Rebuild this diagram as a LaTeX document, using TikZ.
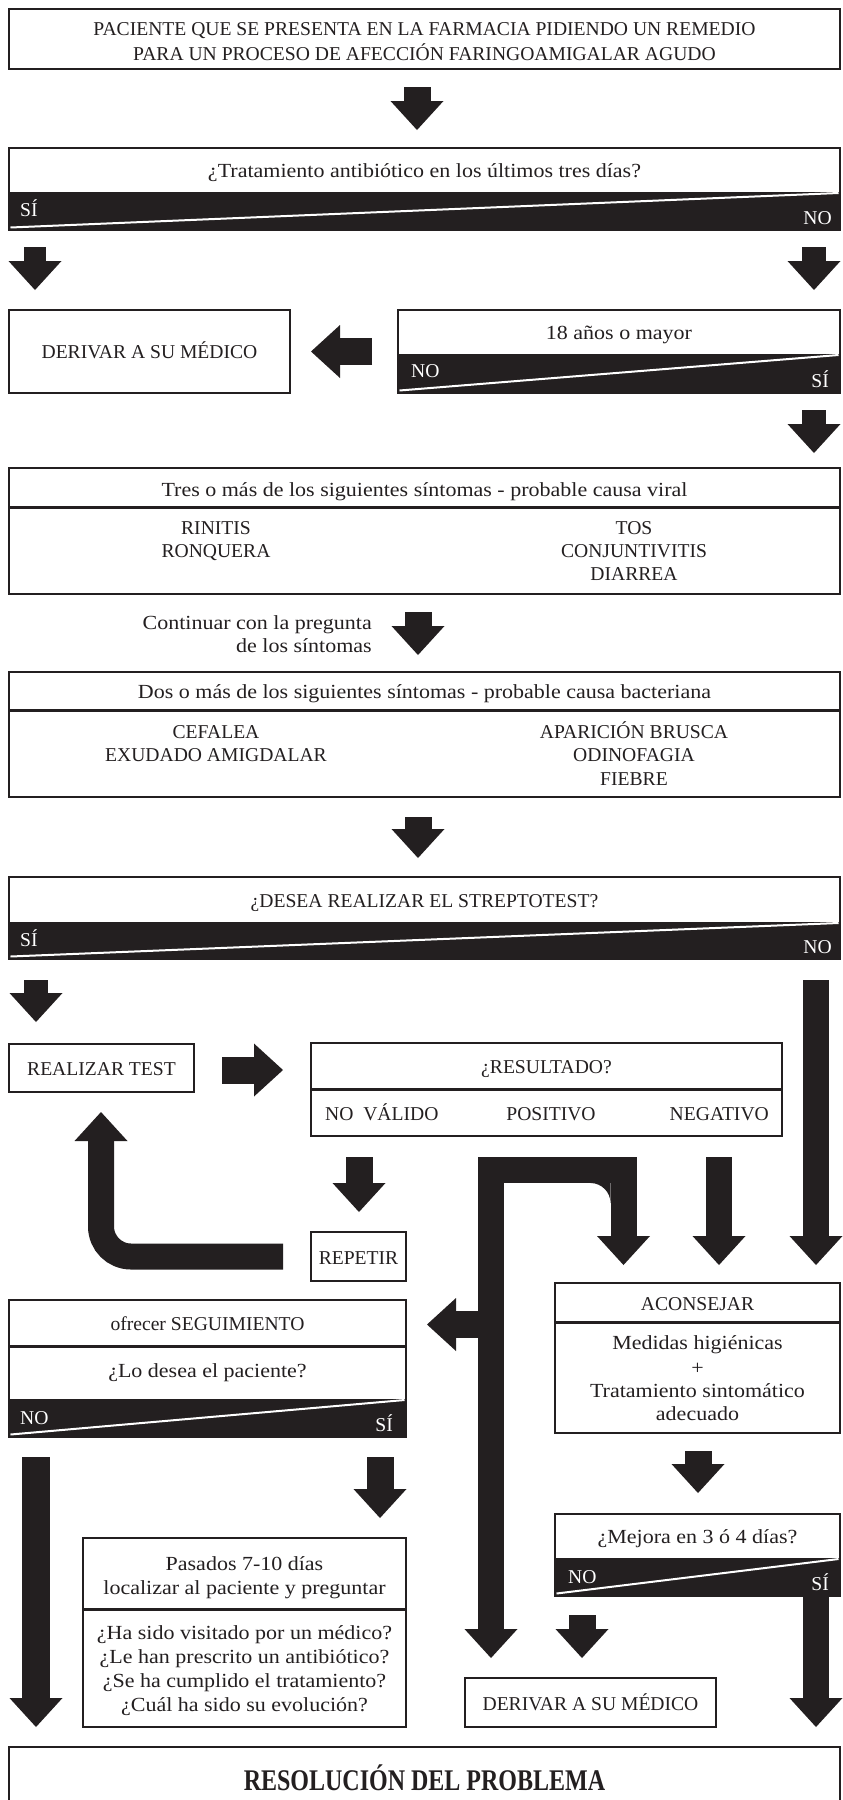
\documentclass[tikz,border=0pt]{standalone}
\usepackage{fontspec}
\setmainfont{Liberation Serif}
\newfontfamily\lcfont[FakeStretch=1.1]{Liberation Serif}
\newfontfamily\resfont[FakeStretch=0.8]{Liberation Serif}
\usetikzlibrary{arrows.meta,calc}
\definecolor{ink}{HTML}{231F20}
\newcommand\capf{\fontsize{19.6}{23.5}\selectfont}
\newcommand\mixf{\lcfont\fontsize{20}{23.5}\selectfont}
\tikzset{
  frame/.style={draw=ink, line width=1.8pt},
  box/.style={frame, fill=white, rectangle, inner sep=0pt, outer sep=0pt},
  capt/.style={font=\capf, text=ink, anchor=base, inner sep=0pt},
  mixt/.style={font=\mixf, text=ink, anchor=base, inner sep=0pt},
  wlab/.style={font=\capf, text=white, inner sep=0pt},
  diag/.style={draw=white, line width=2pt},
  divl/.style={draw=ink, line width=3pt},
  fatbar/.style={draw=ink, line width=27pt, line cap=butt},
  tip/.style={-{Triangle[length=29pt 0 0, width=53pt 0 0, line width=0pt 0 0]}},
  fat/.style={fatbar, tip},
}
\begin{document}
\begin{tikzpicture}[x=1pt,y=-1pt]
\useasboundingbox (0,0) rectangle (843,1800);

% ---------- boxes ----------
\node[box, minimum width=831pt, minimum height=60pt] (top) at (424.5,39) {};
\node[box, minimum width=831pt, minimum height=82pt] (q1) at (424.5,189) {};
\node[box, minimum width=281pt, minimum height=83pt] (der1) at (149.5,351.5) {};
\node[box, minimum width=442pt, minimum height=83pt] (q2) at (619,351.5) {};
\node[box, minimum width=831pt, minimum height=126pt] (vir) at (424.5,531) {};
\node[box, minimum width=831pt, minimum height=125pt] (bac) at (424.5,734.5) {};
\node[box, minimum width=831pt, minimum height=82pt] (str) at (424.5,918) {};
\node[box, minimum width=185pt, minimum height=48pt] (rt) at (101.5,1068) {};
\node[box, minimum width=471pt, minimum height=93pt] (res) at (546.5,1089.5) {};
\node[box, minimum width=95pt, minimum height=49pt] (rep) at (358.5,1256.5) {};
\node[box, minimum width=397pt, minimum height=137pt] (seg) at (207.5,1368.5) {};
\node[box, minimum width=285pt, minimum height=150pt] (acon) at (697.5,1358) {};
\node[box, minimum width=323pt, minimum height=189pt] (pas) at (244.5,1632.5) {};
\node[box, minimum width=285pt, minimum height=82pt] (mej) at (697.5,1555) {};
\node[box, minimum width=251pt, minimum height=49pt] (der2) at (590.5,1702.5) {};
\node[box, minimum width=831pt, minimum height=68pt] (resol) at (424.5,1781) {};

% ---------- black bands with white diagonal ----------
\foreach \b/\h in {q1/38, q2/39, str/37, seg/38, mej/38}{
  \fill[ink] (\b.south west) rectangle ($(\b.south east)+(0,-\h)$);
  \draw[diag] ($(\b.south west)+(1.5,-2.5)$) -- ($(\b.south east)+(-1.5,-\h+1)$);
  \draw[frame] (\b.south west) rectangle (\b.north east);
}

% ---------- dividers ----------
\draw[divl] (9,507) -- (840,507);
\draw[divl] (9,710) -- (840,710);
\draw[divl] (311,1089) -- (782,1089);
\draw[divl] (9,1346) -- (406,1346);
\draw[divl] (555,1322) -- (840,1322);
\draw[divl] (83,1609) -- (406,1609);

% ---------- texts ----------
\node[capt] (t1a) at (424.5,35) {PACIENTE QUE SE PRESENTA EN LA FARMACIA PIDIENDO UN REMEDIO};
\node[capt] (t1b) at (424.5,60) {PARA UN PROCESO DE AFECCIÓN FARINGOAMIGALAR AGUDO};

\node[mixt] (q1t) at (424.5,177) {¿Tratamiento antibiótico en los últimos tres días?};
\node[wlab, anchor=base west] (q1y) at (20,216) {SÍ};
\node[wlab, anchor=base east] (q1n) at (832,224) {NO};

\node[capt] (d1t) at (149.5,358) {DERIVAR A SU MÉDICO};
\node[mixt] (q2t) at (619,339) {18 años o mayor};
\node[wlab, anchor=base west] (q2n) at (411,377) {NO};
\node[wlab, anchor=base east] (q2y) at (829,387) {SÍ};

\node[mixt] (vt) at (424.5,496) {Tres o más de los siguientes síntomas - probable causa viral};
\node[capt] (v1) at (216,534) {RINITIS};
\node[capt] (v2) at (216,557) {RONQUERA};
\node[capt] (v3) at (634,534) {TOS};
\node[capt] (v4) at (634,557) {CONJUNTIVITIS};
\node[capt] (v5) at (634,580) {DIARREA};

\node[mixt, anchor=base east] (c1) at (372,629) {Continuar con la pregunta};
\node[mixt, anchor=base east] (c2) at (372,652) {de los síntomas};

\node[mixt] (bt) at (424.5,698) {Dos o más de los siguientes síntomas - probable causa bacteriana};
\node[capt] (b1) at (216,738) {CEFALEA};
\node[capt] (b2) at (216,761) {EXUDADO AMIGDALAR};
\node[capt] (b3) at (634,738) {APARICIÓN BRUSCA};
\node[capt] (b4) at (634,761) {ODINOFAGIA};
\node[capt] (b5) at (634,785) {FIEBRE};

\node[capt] (st) at (424.5,907) {¿DESEA REALIZAR EL STREPTOTEST?};
\node[wlab, anchor=base west] (sy) at (20,946) {SÍ};
\node[wlab, anchor=base east] (sn) at (832,953) {NO};

\node[capt] (rtt) at (101.5,1075) {REALIZAR TEST};
\node[capt] (rst) at (546.5,1073) {¿RESULTADO?};
\node[capt, anchor=base west] (r1) at (325,1120) {NO\ \ VÁLIDO};
\node[capt] (r2) at (551,1120) {POSITIVO};
\node[capt, anchor=base east] (r3) at (769,1120) {NEGATIVO};
\node[capt] (rpt) at (358.5,1264) {REPETIR};

\node[capt] (sgt) at (207.5,1330) {ofrecer SEGUIMIENTO};
\node[mixt] (sgq) at (207.5,1377) {¿Lo desea el paciente?};
\node[wlab, anchor=base west] (sgn) at (20,1424) {NO};
\node[wlab, anchor=base east] (sgy) at (393,1431) {SÍ};

\node[capt] (act) at (697.5,1310) {ACONSEJAR};
\node[mixt] (ac1) at (697.5,1349) {Medidas higiénicas};
\node[mixt] (ac2) at (697.5,1374) {+};
\node[mixt] (ac3) at (697.5,1397) {Tratamiento sintomático};
\node[mixt] (ac4) at (697.5,1420) {adecuado};

\node[mixt] (p1) at (244.5,1570) {Pasados 7-10 días};
\node[mixt] (p2) at (244.5,1594) {localizar al paciente y preguntar};
\node[mixt] (p3) at (244.5,1639) {¿Ha sido visitado por un médico?};
\node[mixt] (p4) at (244.5,1663) {¿Le han prescrito un antibiótico?};
\node[mixt] (p5) at (244.5,1687) {¿Se ha cumplido el tratamiento?};
\node[mixt] (p6) at (244.5,1711) {¿Cuál ha sido su evolución?};

\node[mixt] (mt) at (697.5,1543) {¿Mejora en 3 ó 4 días?};
\node[wlab, anchor=base west] (mn) at (568,1583) {NO};
\node[wlab, anchor=base east] (my) at (829,1590) {SÍ};

\node[capt] (d2t) at (590.5,1710) {DERIVAR A SU MÉDICO};
\node[font=\resfont\bfseries\fontsize{30}{34}\selectfont, text=ink, anchor=base, inner sep=0pt] (rst2) at (424.5,1790) {RESOLUCIÓN DEL PROBLEMA};

% ---------- arrow end points ----------
\coordinate (a1s) at (417,87);   \coordinate (a1e) at (417,130);
\coordinate (a2s) at (35,247);   \coordinate (a2e) at (35,290);
\coordinate (a3s) at (814,247);  \coordinate (a3e) at (814,290);
\coordinate (a4s) at (372,351.5);\coordinate (a4e) at (311,351.5);
\coordinate (a5s) at (814,410);  \coordinate (a5e) at (814,453);
\coordinate (a6s) at (418,612);  \coordinate (a6e) at (418,655);
\coordinate (a7s) at (418,817);  \coordinate (a7e) at (418,858);
\coordinate (a8s) at (36,980);   \coordinate (a8e) at (36,1022);
\coordinate (a9s) at (816,980);  \coordinate (a9e) at (816,1265);
\coordinate (a10s) at (222,1070);\coordinate (a10e) at (283,1070);
\coordinate (a11s) at (359,1157);\coordinate (a11e) at (359,1212);
\coordinate (lps) at (283,1256.5);\coordinate (lpe) at (101,1112);
\coordinate (pia) at (478,1170);  \coordinate (pib) at (623.5,1170); \coordinate (pic) at (623.5,1265);
\coordinate (pls) at (491,1157);  \coordinate (ple) at (491,1658);
\coordinate (pbs) at (478,1324.5);\coordinate (pbe) at (427,1324.5);
\coordinate (ngs) at (719,1157);  \coordinate (nge) at (719,1265);
\coordinate (lls) at (36,1457);   \coordinate (lle) at (36,1727);
\coordinate (sys) at (380,1457);  \coordinate (sye) at (380,1518);
\coordinate (acs) at (698,1451);  \coordinate (ace) at (698,1493);
\coordinate (mys) at (816,1596);  \coordinate (mye) at (816,1727);
\coordinate (mns) at (582,1615);  \coordinate (mne) at (582,1658);

% ---------- block arrows ----------
\draw[fat] (a1s) -- (a1e);
\draw[fat, line width=22pt] (a2s) -- (a2e);
\draw[fat, line width=24pt] (a3s) -- (a3e);
\draw[fat] (a4s) -- (a4e);
\draw[fat, line width=24pt] (a5s) -- (a5e);
\draw[fat] (a6s) -- (a6e);
\draw[fat] (a7s) -- (a7e);
\draw[fat, line width=24pt] (a8s) -- (a8e);
\draw[fat, line width=26pt] (a9s) -- (a9e);
\draw[fat] (a10s) -- (a10e);
\draw[fat] (a11s) -- (a11e);
\draw[fat, line width=26pt, rounded corners=30pt] (lps) -| (lpe);
\draw[fat, line width=26pt] (pia) -- (pib) -- (pic);
\fill[ink] (610.5,1183) -- (610.5,1203) .. controls (610.5,1192) and (601.5,1183) .. (590.5,1183) -- cycle;
\draw[fat, line width=26pt] (pls) -- (ple);
\draw[fat] (pbs) -- (pbe);
\draw[fat, line width=26pt] (ngs) -- (nge);
\draw[fat, line width=28pt] (lls) -- (lle);
\draw[fat] (sys) -- (sye);
\draw[fat] (acs) -- (ace);
\draw[fat, line width=26pt] (mys) -- (mye);
\draw[fat] (mns) -- (mne);
\end{tikzpicture}
\end{document}
